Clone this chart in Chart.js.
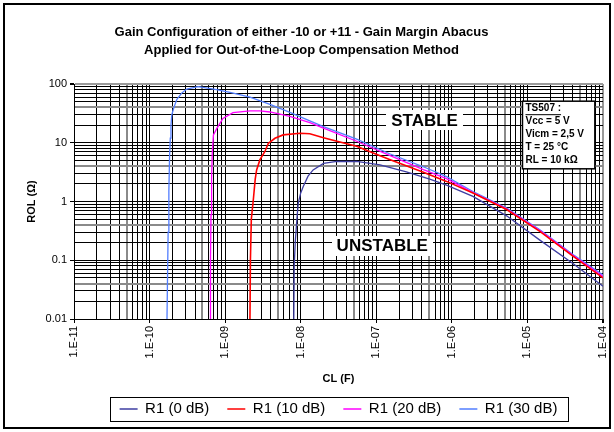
<!DOCTYPE html>
<html>
<head>
<meta charset="utf-8">
<title>Gain Margin Abacus</title>
<script src="https://cdn.jsdelivr.net/npm/chart.js@4/dist/chart.umd.min.js"></script>
<style>
  html, body { margin: 0; padding: 0; background: #fff; }
  #chart { display: block; }
</style>
</head>
<body>
<canvas id="chart" width="614" height="432"></canvas>
<script>
// ---------- DATA ----------
const seriesLabels = ['R1 (0 dB)', 'R1 (10 dB)', 'R1 (20 dB)', 'R1 (30 dB)'];

// R1 (0 dB)
const cl0dB  = [8.1e-9, 8.2e-9, 8.5e-9, 9.0e-9, 9.3e-9, 1.0e-8, 1.08e-8, 1.25e-8, 1.46e-8, 2.0e-8, 3.0e-8, 5.5e-8, 1.12e-7, 2.5e-7, 5.1e-7, 8.5e-7, 1.9e-6, 5.3e-6, 1.46e-5, 4.0e-5, 1.0e-4];
const rol0dB = [0.01, 0.08, 0.22, 0.6, 0.95, 1.4, 1.8, 2.7, 3.45, 4.45, 4.8, 4.8, 4.2, 3.2, 2.4, 1.9, 1.22, 0.57, 0.22, 0.088, 0.036];

// R1 (10 dB)
const cl10dB  = [2.13e-9, 2.16e-9, 2.22e-9, 2.36e-9, 2.5e-9, 2.61e-9, 2.88e-9, 3.36e-9, 3.73e-9, 4.56e-9, 5.86e-9, 9.75e-9, 1.32e-8, 2.0e-8, 3.3e-8, 5.5e-8, 1.0e-7, 1.5e-7, 4.2e-7, 8.5e-7, 1.9e-6, 5.3e-6, 1.46e-5, 4.0e-5, 1.0e-4];
const rol10dB = [0.01, 0.1, 0.5, 1.07, 2.4, 3.45, 5.1, 7.1, 9.8, 11.9, 13.6, 14.5, 14.2, 12.2, 10.3, 8.7, 6.4, 5.2, 3.15, 2.2, 1.4, 0.73, 0.31, 0.118, 0.05];

// R1 (20 dB)
const cl20dB  = [6.35e-10, 6.4e-10, 6.5e-10, 6.62e-10, 6.75e-10, 7.0e-10, 7.8e-10, 9.35e-10, 1.27e-9, 2.13e-9, 2.88e-9, 3.92e-9, 7.2e-9, 1.32e-8, 2.0e-8, 5.5e-8, 1.5e-7, 4.2e-7, 8.5e-7, 1.9e-6, 5.3e-6, 1.46e-5, 4.0e-5, 1.0e-4];
const rol20dB = [0.01, 0.1, 0.6, 2.5, 6.6, 13.6, 17.7, 26, 32.5, 35, 35, 33.4, 28, 22, 17.7, 10.6, 6.1, 3.5, 2.45, 1.42, 0.75, 0.32, 0.121, 0.053];

// R1 (30 dB)
const cl30dB  = [1.70e-10, 1.76e-10, 1.80e-10, 1.84e-10, 1.88e-10, 1.92e-10, 1.97e-10, 2.1e-10, 2.3e-10, 2.66e-10, 3.1e-10, 4.4e-10, 7.7e-10, 1.16e-9, 2.13e-9, 3.92e-9, 7.2e-9, 1.32e-8, 2.0e-8, 5.5e-8, 1.5e-7, 4.2e-7, 8.5e-7, 1.9e-6, 5.3e-6, 1.46e-5, 4.0e-5, 1.0e-4];
const rol30dB = [0.01, 0.3, 1.5, 6, 12, 20, 30, 40, 55, 70, 82, 90, 80, 72, 60, 45, 33, 23.5, 18.8, 11.5, 6.5, 3.9, 2.65, 1.48, 0.77, 0.33, 0.125, 0.056];

// eixos
const xTickValues = [1e-11, 1e-10, 1e-9, 1e-8, 1e-7, 1e-6, 1e-5, 1e-4];
const xTickLabels = ['1.E-11', '1.E-10', '1.E-09', '1.E-08', '1.E-07', '1.E-06', '1.E-05', '1.E-04'];
const yTickValues = [0.01, 0.1, 1, 10, 100];
const yTickLabels = ['0.01', '0.1', '1', '10', '100'];

// ---------- Helpers ----------
const FONT = "Arial, 'Liberation Sans', sans-serif";
const toPoints = (xs, ys) => xs.map((x, i) => ({ x, y: ys[i] }));
const same = (a, b) => Math.abs(a / b - 1) < 1e-6;

// grade log: 1..9 por década
function logTicks(decades) {
  const out = [];
  for (let i = 0; i < decades.length - 1; i++) {
    for (let m = 1; m <= 9; m++) out.push({ value: m * decades[i], major: m === 1, mult: m });
  }
  out.push({ value: decades[decades.length - 1], major: true, mult: 1 });
  return out;
}
function labelFor(values, labels) {
  return v => {
    const i = values.findIndex(d => same(d, v));
    return i >= 0 ? labels[i] : '';
  };
}
function gridStyle(values, grayMult) {
  const last = values[values.length - 1];
  return {
    color: c => {
      const t = c.tick; if (!t) return '#000';
      if (same(t.value, last)) return '#9a9a9a';
      return t.mult === grayMult ? '#8a8a8a' : '#000';
    },
    lineWidth: c => {
      const t = c.tick; if (!t) return 1;
      if (same(t.value, last)) return 2;
      return t.mult === grayMult ? 2 : 1;
    },
    tickColor: c => (c.tick && c.tick.major ? '#000' : 'rgba(0,0,0,0)'),
    tickLength: 4,
    drawTicks: true
  };
}

// ---------- Anotações ----------
const regionLabels = [
  { text: 'STABLE',   cl: 4.35e-7, rol: 24.4 },
  { text: 'UNSTABLE', cl: 1.2e-7,  rol: 0.178 }
];
const infoLines = ['TS507 :', 'Vcc = 5 V', 'Vicm = 2,5 V', 'T = 25 °C', 'RL = 10 kΩ'];
const infoBox = { cl1: 8.6e-6, rol1: 51, cl2: 7.8e-5, rol2: 3.6 };

const decorPlugin = {
  id: 'decor',
  afterDatasetsDraw(chart) {
    const { ctx, scales: { x, y } } = chart;
    ctx.save();
    ctx.textBaseline = 'middle';

    // STABLE / UNSTABLE com fundo branco
    ctx.font = 'bold 17px ' + FONT;
    regionLabels.forEach(l => {
      const px = x.getPixelForValue(l.cl), py = y.getPixelForValue(l.rol);
      const w = ctx.measureText(l.text).width;
      ctx.fillStyle = '#fff';
      ctx.fillRect(Math.round(px - w / 2 - 5), Math.round(py - 10), Math.round(w + 10), 20);
      ctx.fillStyle = '#000';
      ctx.textAlign = 'center';
      ctx.fillText(l.text, px, py + 1);
    });

    // caixa de condições
    const bx1 = x.getPixelForValue(infoBox.cl1), by1 = y.getPixelForValue(infoBox.rol1);
    const bx2 = x.getPixelForValue(infoBox.cl2), by2 = y.getPixelForValue(infoBox.rol2);
    ctx.fillStyle = '#fff';
    ctx.fillRect(bx1, by1, bx2 - bx1, by2 - by1);
    ctx.strokeStyle = '#000';
    ctx.lineWidth = 1.5;
    ctx.strokeRect(bx1, by1, bx2 - bx1, by2 - by1);
    ctx.font = 'bold 10px ' + FONT;
    ctx.fillStyle = '#000';
    ctx.textAlign = 'left';
    infoLines.forEach((t, i) => {
      const ty = by1 + 7 + i * 13;
      ctx.fillText(t, bx1 + 3, ty);
      if (i === 0) {
        const w = ctx.measureText(t).width;
        ctx.lineWidth = 1;
        ctx.beginPath();
        ctx.moveTo(bx1 + 3, ty + 6.5);
        ctx.lineTo(bx1 + 3 + w, ty + 6.5);
        ctx.stroke();
      }
    });
    ctx.restore();
  },
  afterDraw(chart) {
    const { ctx, legend } = chart;
    ctx.save();
    // moldura da legenda
    if (legend && legend.legendHitBoxes && legend.legendHitBoxes.length) {
      const hb = legend.legendHitBoxes;
      const l = Math.min(...hb.map(b => b.left)) - 10;
      const r = Math.max(...hb.map(b => b.left + b.width)) + 10;
      const t = Math.min(...hb.map(b => b.top)) - 4.5;
      const b = Math.max(...hb.map(b => b.top + b.height)) + 4.5;
      ctx.strokeStyle = '#000';
      ctx.lineWidth = 1;
      ctx.strokeRect(Math.round(l) + 0.5, Math.round(t) + 0.5, Math.round(r - l), Math.round(b - t));
    }
    // moldura externa
    ctx.strokeStyle = '#000';
    ctx.lineWidth = 2;
    ctx.strokeRect(4, 4, 606, 424);
    ctx.restore();
  }
};

// ---------- Gráfico ----------
const seriesColors = ['#3e3ea2', '#ff0000', '#ff00ff', '#527eff'];
const seriesData = [
  toPoints(cl0dB, rol0dB),
  toPoints(cl10dB, rol10dB),
  toPoints(cl20dB, rol20dB),
  toPoints(cl30dB, rol30dB)
];

const ctx = document.getElementById('chart').getContext('2d');
new Chart(ctx, {
  type: 'line',
  data: {
    datasets: seriesLabels.map((label, i) => ({
      label,
      data: seriesData[i],
      borderColor: seriesColors[i],
      backgroundColor: seriesColors[i],
      borderWidth: i === 1 ? 1.6 : 1.3,
      pointRadius: 0,
      tension: 0,
      fill: false
    }))
  },
  options: {
    responsive: false,
    animation: false,
    devicePixelRatio: 1,
    layout: { padding: { left: 0, right: 11, top: 0, bottom: 5.5 } },
    scales: {
      x: {
        type: 'logarithmic',
        min: xTickValues[0],
        max: xTickValues[xTickValues.length - 1],
        afterBuildTicks: s => { s.ticks = logTicks(xTickValues); },
        afterFit: s => { s.height = 64.5; s.paddingLeft = 0; s.paddingRight = 0; },
        ticks: {
          autoSkip: false,
          maxRotation: 90,
          minRotation: 90,
          padding: 3,
          color: '#000',
          font: { family: FONT, size: 11 },
          callback: labelFor(xTickValues, xTickLabels)
        },
        grid: gridStyle(xTickValues, 5),
        border: { display: true, color: '#000', width: 1 },
        title: {
          display: true,
          text: 'CL (F)',
          color: '#000',
          font: { family: FONT, size: 11, weight: 'bold' },
          padding: { top: 0, bottom: -2.1 }
        }
      },
      y: {
        type: 'logarithmic',
        min: yTickValues[0],
        max: yTickValues[yTickValues.length - 1],
        afterBuildTicks: s => { s.ticks = logTicks(yTickValues); },
        afterFit: s => { s.width = 74; },
        ticks: {
          autoSkip: false,
          padding: 3,
          color: '#000',
          font: { family: FONT, size: 11 },
          callback: labelFor(yTickValues, yTickLabels)
        },
        grid: gridStyle(yTickValues, 4),
        border: { display: true, color: '#000', width: 1 },
        title: {
          display: true,
          text: 'ROL (Ω)',
          color: '#000',
          font: { family: FONT, size: 11, weight: 'bold' },
          padding: { top: 25, bottom: 0 }
        }
      }
    },
    plugins: {
      title: {
        display: true,
        text: ['Gain Configuration of either -10 or +11 - Gain Margin Abacus',
               'Applied for Out-of-the-Loop Compensation Method'],
        color: '#000',
        font: { family: FONT, size: 13, weight: 'bold', lineHeight: 1.4 },
        padding: { top: 23, bottom: 24.6 }
      },
      legend: {
        position: 'bottom',
        fullSize: false,
        labels: {
          usePointStyle: true,
          pointStyle: 'line',
          pointStyleWidth: 18,
          padding: 18,
          color: '#000',
          font: { family: FONT, size: 15 }
        }
      },
      tooltip: { enabled: false }
    }
  },
  plugins: [decorPlugin]
});
</script>
</body>
</html>
